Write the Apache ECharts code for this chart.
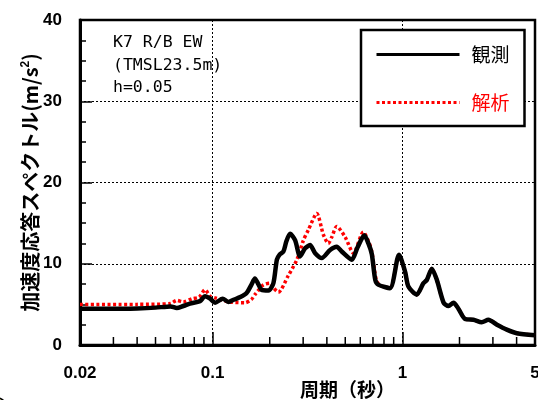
<!DOCTYPE html>
<html><head><meta charset="utf-8">
<script src="https://cdn.jsdelivr.net/npm/echarts@6/dist/echarts.min.js"></script>
<style>html,body{margin:0;padding:0;background:#fff}#c{width:538px;height:400px}</style>
</head><body><div id="c"></div>
<script>
// Observed (観測)
const obsPeriod = [0.02,0.025,0.03,0.04,0.05,0.06,0.0647,0.07,0.076,0.0858,0.0912,0.097,0.103,0.113,0.121,0.13,0.14,0.151,0.16,0.167,0.174,0.181,0.197,0.209,0.218,0.225,0.236,0.245,0.256,0.272,0.289,0.307,0.326,0.347,0.376,0.416,0.451,0.479,0.541,0.58,0.63,0.662,0.69,0.72,0.75,0.86,0.96,1.034,1.076,1.19,1.29,1.345,1.43,1.52,1.65,1.75,1.86,1.97,2.14,2.37,2.62,2.84,3.15,3.55,4.01,5.0];
const obsValue  = [4.45,4.45,4.45,4.5,4.6,4.75,4.55,4.8,5.1,5.4,6.0,5.7,5.2,5.7,5.3,5.6,5.9,6.4,7.4,8.2,7.5,6.8,6.7,7.6,10.5,11.1,11.5,12.8,13.7,12.9,10.9,11.9,12.3,11.3,10.7,11.7,12.1,11.5,10.5,12.0,13.5,12.5,11.2,8.0,7.4,7.0,11.1,9.0,7.2,6.2,7.6,8.0,9.4,8.0,5.2,4.8,5.2,4.5,3.2,3.1,2.8,3.1,2.5,1.9,1.45,1.2];
// Analysis (解析)
const anaPeriod = [0.02,0.04,0.06,0.0647,0.07,0.078,0.085,0.0912,0.097,0.103,0.123,0.148,0.16,0.167,0.185,0.2,0.21,0.222,0.25,0.278,0.30,0.32,0.354,0.383,0.407,0.425,0.451,0.499,0.552,0.623,0.662,0.69,0.73,0.77,0.86,0.96,1.034,1.076,1.19,1.29,1.345,1.43,1.52,1.65,1.75,1.86,1.97,2.14,2.37,2.62,2.84,3.15,3.55,4.01,5.0];
const anaValue  = [5.0,5.0,5.1,5.5,5.3,5.7,5.9,6.8,6.0,5.8,5.3,5.2,5.6,6.2,7.4,7.6,7.0,6.5,8.5,10.5,12.8,14.2,16.2,13.6,12.5,13.3,14.6,13.3,11.3,13.9,12.8,11.5,7.9,7.3,7.0,11.0,9.0,7.2,6.2,7.6,8.0,9.4,8.0,5.2,4.8,5.2,4.5,3.2,3.1,2.8,3.1,2.5,1.9,1.45,1.2];
// Axis ticks
const xTickValues = [0.02,0.1,1,5];
const xTickLabels = ['0.02','0.1','1','5'];
const xMinorTicks = [0.03,0.04,0.05,0.06,0.07,0.08,0.09,0.2,0.3,0.4,0.5,0.6,0.7,0.8,0.9,2,3,4];
const seriesNames = ['観測','解析'];
const noteLines = ['K7 R/B EW','(TMSL23.5m)','h=0.05'];

const chart = echarts.init(document.getElementById('c'), null, {renderer:'canvas'});
const zip = (a,b)=>a.map((v,i)=>[v,b[i]]);
const font = 'Liberation Sans, Arial, sans-serif';
const cjk = 'Noto Sans CJK JP, sans-serif';

chart.setOption({
  animation:false,
  backgroundColor:'#fff',
  grid:{left:80, right:3, top:20, bottom:55, containLabel:false, outerBoundsMode:'none',
    show:true, borderColor:'#000', borderWidth:2.5, backgroundColor:'transparent'},
  xAxis:{
    type:'log', logBase:10, min:0.02, max:5,
    axisLine:{show:true, onZero:false, lineStyle:{color:'#000', width:3}},
    axisTick:{show:true, inside:true, length:13, lineStyle:{color:'#000', width:1.5}},
    minorTick:{show:false},
    splitLine:{show:true, lineStyle:{color:'#000', width:1, type:[2,2]}},
    axisLabel:{showMinLabel:true, showMaxLabel:true, margin:20, color:'#000', fontSize:17, fontWeight:'bold', fontFamily:font,
      formatter:function(v){let best=0;for(let i=1;i<xTickValues.length;i++){if(Math.abs(Math.log(v/xTickValues[i]))<Math.abs(Math.log(v/xTickValues[best])))best=i;}return xTickLabels[best];}},
    name:'周期（秒）', nameLocation:'middle', nameGap:35, nameMoveOverlap:false,
    nameTextStyle:{color:'#000', fontSize:19, fontWeight:'bold', fontFamily:cjk, padding:[0,0,0,80]}
  },
  yAxis:{
    type:'value', min:0, max:40, interval:10,
    axisLine:{show:true, onZero:false, lineStyle:{color:'#000', width:3}},
    axisTick:{show:true, inside:true, length:12, lineStyle:{color:'#000', width:1.5}},
    minorTick:{show:true, splitNumber:4, length:6, lineStyle:{color:'#000', width:1.5}},
    splitLine:{show:true, lineStyle:{color:'#000', width:1, type:[2,2]}},
    axisLabel:{margin:18, color:'#000', fontSize:17, fontWeight:'bold', fontFamily:font},
    name:'加速度応答スペクトル(m/s{sup|2})', nameLocation:'middle', nameGap:40, nameRotate:90, nameMoveOverlap:false,
    nameTextStyle:{color:'#000', fontSize:20, fontWeight:'bold', fontFamily:cjk,
      rich:{sup:{fontSize:12, fontWeight:'bold', verticalAlign:'top', padding:[0,0,8,0], fontFamily:font}}}
  },
  legend:{
    data:[{name:seriesNames[0], textStyle:{color:'#000'}},{name:seriesNames[1], textStyle:{color:'#f00'}}],
    orient:'vertical', left:361, top:30,
    itemWidth:83, itemHeight:20, itemGap:29,
    padding:[15,15,14,14],
    borderColor:'#000', borderWidth:2.5, backgroundColor:'#fff',
    lineStyle:{width:3},
    itemStyle:{opacity:0, color:'rgba(0,0,0,0)', borderWidth:0},
    textStyle:{fontSize:19, fontFamily:cjk, padding:[0,0,0,7]},
    selectedMode:false
  },
  graphic:[
    {type:'text', left:113, top:34, style:{text:noteLines[0], font:'16.5px "DejaVu Sans Mono", monospace', fill:'#000'}},
    {type:'text', left:113, top:57, style:{text:noteLines[1], font:'16.5px "DejaVu Sans Mono", monospace', fill:'#000'}},
    {type:'text', left:113, top:79, style:{text:noteLines[2], font:'16.5px "DejaVu Sans Mono", monospace', fill:'#000'}},
    {type:'circle', shape:{cx:-9, cy:418, r:21.5}, style:{fill:'#f3ee9a', stroke:'#000', lineWidth:1.5}, silent:true}
  ],
  series:[
    {name:seriesNames[1], type:'line', data:zip(anaPeriod,anaValue), symbol:'none', smooth:0.25, z:2,
      lineStyle:{color:'#f00', width:3.5, type:[3,2.5]}, itemStyle:{color:'#f00'}},
    {name:seriesNames[0], type:'line', data:zip(obsPeriod,obsValue), symbol:'none', smooth:0.25, z:3,
      lineStyle:{color:'#000', width:4.5}, itemStyle:{color:'#000'}},
    {name:'minor', type:'custom', data:xMinorTicks.map(v=>[v,0]), z:5, silent:true,
      renderItem:function(params, api){const p=api.coord([api.value(0),0]);return {type:'line', shape:{x1:p[0],y1:p[1]-1,x2:p[0],y2:p[1]-8}, style:{stroke:'#000', lineWidth:1.5}};}}
  ]
});
</script>
</body></html>
